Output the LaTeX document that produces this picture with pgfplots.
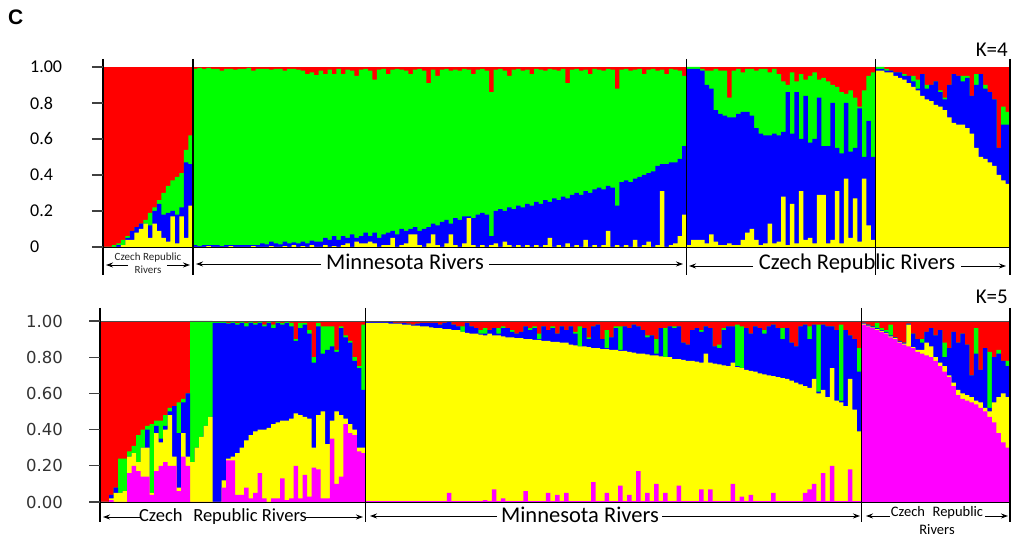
\documentclass[border=0pt]{standalone}
\usepackage{pgfplots}
\pgfplotsset{compat=1.18}
\usepackage{pgfplotstable}
\usepackage{fontspec}
\setmainfont{Carlito}
\newfontfamily\arialfont{Liberation Sans}
\newfontfamily\dejavu{DejaVu Sans}
\usetikzlibrary{arrows.meta}
\definecolor{cR}{RGB}{255,0,0}
\definecolor{cG}{RGB}{0,255,0}
\definecolor{cB}{RGB}{0,0,255}
\definecolor{cY}{RGB}{255,255,0}
\definecolor{cM}{RGB}{255,0,255}

% K=4 : cumulative tops (yellow, blue, green); red fills to 1
\pgfplotstableread{
x y b g
0 0 0 0
1 0 0 0
2 0 0 0.01
3 0 0.01 0.02
4 0.01 0.01 0.04
5 0.04 0.05 0.06
6 0.04 0.09 0.09
7 0.08 0.11 0.11
8 0.1 0.13 0.13
9 0.13 0.13 0.15
10 0.05 0.12 0.19
11 0.13 0.2 0.22
12 0.09 0.24 0.26
13 0.05 0.18 0.3
14 0.03 0.19 0.34
15 0.17 0.2 0.37
16 0.02 0.18 0.39
17 0.17 0.22 0.41
18 0.05 0.47 0.54
19 0.23 0.46 0.62
20 0.0 0.01 0.99
21 0.0 0.005 0.995
22 0.0 0.01 0.99
23 0.005 0.01 0.995
24 0.0 0.01 0.99
25 0.0 0.01 0.99
26 0.0 0.005 0.98
27 0.0 0.01 0.99
28 0.005 0.01 0.99
29 0.0 0.01 0.985
30 0.0 0.01 0.99
31 0.0 0.01 0.99
32 0.0 0.01 0.995
33 0.005 0.01 0.98
34 0.0 0.01 0.99
35 0.0 0.02 0.99
36 0.0 0.015 0.99
37 0.005 0.03 0.985
38 0.0 0.02 0.99
39 0.0 0.015 0.99
40 0.005 0.03 0.98
41 0.0 0.02 0.99
42 0.01 0.025 0.99
43 0.0 0.02 0.985
44 0.005 0.03 0.98
45 0.0 0.02 0.96
46 0.01 0.035 0.97
47 0.0 0.03 0.955
48 0.0 0.03 0.98
49 0.01 0.05 0.96
50 0.0 0.04 0.985
51 0.005 0.06 0.96
52 0.0 0.04 0.99
53 0.01 0.06 0.96
54 0.02 0.05 0.985
55 0.0 0.07 0.98
56 0.03 0.05 0.95
57 0.02 0.06 0.985
58 0.02 0.08 0.99
59 0.03 0.06 0.98
60 0.02 0.08 0.93
61 0.0 0.05 0.985
62 0.01 0.07 0.99
63 0.01 0.08 0.96
64 0.05 0.09 0.985
65 0.0 0.07 0.99
66 0.01 0.1 0.985
67 0.02 0.09 0.98
68 0.07 0.1 0.96
69 0.07 0.11 0.985
70 0.01 0.09 0.99
71 0.0 0.1 0.98
72 0.02 0.11 0.91
73 0.07 0.13 0.985
74 0.01 0.12 0.95
75 0.0 0.14 0.985
76 0.02 0.15 0.99
77 0.07 0.13 0.98
78 0.01 0.16 0.985
79 0.0 0.15 0.98
80 0.02 0.17 0.99
81 0.16 0.17 0.985
82 0.01 0.16 0.96
83 0.0 0.18 0.985
84 0.01 0.19 0.99
85 0.0 0.18 0.98
86 0.01 0.06 0.86
87 0.02 0.2 0.985
88 0.0 0.21 0.99
89 0.03 0.2 0.98
90 0.01 0.22 0.95
91 0.0 0.21 0.985
92 0.01 0.23 0.99
93 0.0 0.22 0.98
94 0.01 0.24 0.985
95 0.0 0.23 0.96
96 0.01 0.25 0.99
97 0.0 0.24 0.985
98 0.01 0.26 0.98
99 0.05 0.25 0.99
100 0.0 0.27 0.985
101 0.01 0.26 0.98
102 0.0 0.28 0.99
103 0.02 0.27 0.91
104 0.0 0.29 0.985
105 0.01 0.3 0.99
106 0.0 0.29 0.98
107 0.04 0.31 0.985
108 0.0 0.3 0.96
109 0.01 0.32 0.99
110 0.0 0.33 0.985
111 0.01 0.32 0.98
112 0.09 0.34 0.99
113 0.0 0.33 0.985
114 0.01 0.23 0.88
115 0.0 0.36 0.985
116 0.01 0.37 0.99
117 0.0 0.36 0.98
118 0.04 0.38 0.985
119 0.0 0.39 0.99
120 0.01 0.4 0.96
121 0.03 0.41 0.985
122 0.0 0.42 0.99
123 0.01 0.45 0.98
124 0.31 0.46 0.985
125 0.0 0.46 0.96
126 0.01 0.47 0.99
127 0.02 0.47 0.985
128 0.06 0.49 0.98
129 0.18 0.56 0.95
130 0.01 0.99 1.0
131 0.04 0.99 1.0
132 0.04 0.99 1.0
133 0.04 0.98 0.99
134 0.02 0.9 0.98
135 0.07 0.88 0.98
136 0.03 0.76 0.99
137 0.01 0.74 0.98
138 0.01 0.73 0.98
139 0.02 0.72 0.83
140 0.01 0.72 0.98
141 0.01 0.74 0.99
142 0.04 0.75 0.97
143 0.08 0.75 0.99
144 0.1 0.73 0.99
145 0.04 0.66 0.98
146 0.01 0.63 0.99
147 0.02 0.62 0.99
148 0.13 0.62 0.97
149 0.02 0.63 0.99
150 0.03 0.62 0.96
151 0.28 0.64 0.92
152 0.01 0.86 0.9
153 0.24 0.63 0.97
154 0.02 0.86 0.92
155 0.31 0.6 0.96
156 0.04 0.84 0.93
157 0.05 0.58 0.95
158 0.02 0.6 0.97
159 0.29 0.83 0.93
160 0.29 0.56 0.94
161 0.02 0.56 0.92
162 0.04 0.8 0.9
163 0.31 0.55 0.89
164 0.02 0.52 0.86
165 0.38 0.8 0.85
166 0.05 0.53 0.87
167 0.27 0.55 0.83
168 0.03 0.77 0.78
169 0.38 0.5 0.87
170 0.12 0.7 0.95
171 0.04 0.5 0.97
172 0.98 0.99 1.0
173 0.98 0.99 1.0
174 0.97 0.98 0.99
175 0.97 0.98 0.98
176 0.95 0.97 0.97
177 0.94 0.97 0.97
178 0.93 0.95 0.96
179 0.91 0.95 0.95
180 0.89 0.92 0.95
181 0.87 0.88 0.93
182 0.84 0.96 0.96
183 0.82 0.88 0.9
184 0.81 0.9 0.9
185 0.79 0.92 0.92
186 0.78 0.86 0.87
187 0.76 0.82 0.83
188 0.72 0.9 0.9
189 0.69 0.96 0.96
190 0.68 0.95 0.95
191 0.68 0.92 0.95
192 0.66 0.94 0.95
193 0.63 0.84 0.84
194 0.55 0.9 0.96
195 0.5 0.96 0.96
196 0.49 0.88 0.9
197 0.47 0.86 0.86
198 0.45 0.82 0.82
199 0.4 0.55 0.55
200 0.37 0.68 0.78
201 0.35 0.68 0.75
202 0.35 0.68 0.75
}\topdata

% K=5 : cumulative tops (magenta, yellow, blue, green); red fills to 1
\pgfplotstableread{
x m y b g
0 0 0 0 0
1 0 0 0 0
2 0.01 0.02 0.04 0.04
3 0.0 0.05 0.08 0.08
4 0.0 0.05 0.05 0.24
5 0.0 0.06 0.06 0.24
6 0.16 0.25 0.25 0.28
7 0.2 0.27 0.27 0.31
8 0.17 0.22 0.22 0.37
9 0.14 0.3 0.3 0.4
10 0.14 0.3 0.4 0.42
11 0.04 0.05 0.05 0.43
12 0.17 0.38 0.42 0.45
13 0.2 0.33 0.35 0.45
14 0.22 0.4 0.42 0.48
15 0.2 0.48 0.5 0.52
16 0.2 0.25 0.53 0.53
17 0.06 0.08 0.38 0.55
18 0.25 0.38 0.55 0.57
19 0.2 0.25 0.6 0.6
20 0 0.22 0.22 1.0
21 0 0.3 0.3 1.0
22 0 0.36 0.36 1.0
23 0 0.42 0.42 1.0
24 0 0.47 0.47 1.0
25 0 0 0.99 0.995
26 0 0 0.99 0.995
27 0.08 0.12 0.99 0.995
28 0.23 0.24 0.985 0.99
29 0.23 0.25 0.99 0.995
30 0.04 0.27 0.98 0.99
31 0.04 0.3 0.99 0.995
32 0.08 0.34 0.97 0.99
33 0.02 0.37 0.99 0.995
34 0.05 0.39 0.98 0.99
35 0.16 0.4 0.99 0.995
36 0.02 0.4 0.97 0.98
37 0.0 0.41 0.99 0.995
38 0.02 0.43 0.96 0.98
39 0.02 0.44 0.99 0.995
40 0.13 0.45 0.98 0.99
41 0.01 0.45 0.99 0.995
42 0.02 0.46 0.97 0.99
43 0.2 0.49 0.89 0.9
44 0.02 0.48 0.96 0.99
45 0.15 0.47 0.98 0.99
46 0.03 0.46 0.93 0.95
47 0.19 0.3 0.77 0.8
48 0.18 0.48 0.97 0.99
49 0.02 0.5 0.82 0.97
50 0.02 0.32 0.84 0.97
51 0.35 0.45 0.86 0.97
52 0.1 0.5 0.83 0.84
53 0.14 0.48 0.96 0.97
54 0.43 0.46 0.91 0.92
55 0.38 0.43 0.88 0.89
56 0.37 0.4 0.78 0.8
57 0.28 0.3 0.74 0.75
58 0.27 0.3 0.62 0.98
59 0.005 0.99 0.995 0.995
60 0.005 0.99 0.995 0.995
61 0.005 0.99 0.995 0.995
62 0.005 0.99 0.995 0.995
63 0.005 0.99 0.995 0.995
64 0.005 0.985 0.995 0.995
65 0.005 0.985 0.99 0.99
66 0.005 0.985 0.99 0.99
67 0.005 0.98 0.99 0.99
68 0.005 0.98 0.985 0.985
69 0.005 0.975 0.98 0.98
70 0.005 0.975 0.985 0.985
71 0.005 0.97 0.99 0.99
72 0.005 0.97 0.99 0.99
73 0.005 0.965 0.99 0.99
74 0.005 0.96 0.99 0.99
75 0.005 0.96 0.98 0.98
76 0.005 0.955 0.99 0.99
77 0.05 0.955 0.995 0.995
78 0.005 0.95 0.98 0.98
79 0.005 0.95 0.97 0.97
80 0.005 0.94 0.94 0.97
81 0.005 0.935 0.99 0.99
82 0.005 0.93 0.97 0.97
83 0.005 0.93 0.96 0.96
84 0.005 0.925 0.93 0.95
85 0.01 0.92 0.93 0.96
86 0.005 0.93 0.95 0.95
87 0.07 0.92 0.96 0.96
88 0.005 0.92 0.93 0.96
89 0.02 0.915 0.96 0.97
90 0.005 0.91 0.96 0.96
91 0.005 0.91 0.94 0.95
92 0.005 0.905 0.93 0.93
93 0.005 0.905 0.94 0.94
94 0.06 0.9 0.97 0.97
95 0.005 0.9 0.95 0.96
96 0.005 0.895 0.96 0.97
97 0.005 0.895 0.9 0.93
98 0.005 0.89 0.97 0.97
99 0.05 0.89 0.95 0.95
100 0.005 0.885 0.96 0.97
101 0.04 0.885 0.93 0.93
102 0.005 0.88 0.97 0.97
103 0.05 0.88 0.95 0.95
104 0.005 0.87 0.97 0.97
105 0.005 0.865 0.93 0.94
106 0.005 0.86 0.86 0.97
107 0.005 0.86 0.96 0.96
108 0.005 0.855 0.9 0.91
109 0.11 0.85 0.97 0.97
110 0.005 0.85 0.98 0.98
111 0.005 0.845 0.9 0.9
112 0.05 0.845 0.85 0.95
113 0.005 0.84 0.91 0.91
114 0.005 0.84 0.96 0.97
115 0.09 0.835 0.84 0.97
116 0.005 0.835 0.97 0.97
117 0.04 0.83 0.96 0.96
118 0.005 0.825 0.98 0.98
119 0.17 0.82 0.97 0.97
120 0.005 0.82 0.95 0.95
121 0.05 0.815 0.91 0.92
122 0.005 0.81 0.92 0.92
123 0.1 0.81 0.82 0.9
124 0.005 0.805 0.96 0.96
125 0.05 0.8 0.8 0.96
126 0.005 0.8 0.97 0.97
127 0.005 0.79 0.96 0.97
128 0.09 0.79 0.97 0.97
129 0.005 0.785 0.88 0.88
130 0.005 0.78 0.87 0.87
131 0.005 0.78 0.95 0.95
132 0.005 0.775 0.96 0.96
133 0.07 0.77 0.94 0.95
134 0.005 0.82 0.97 0.97
135 0.07 0.77 0.96 0.96
136 0.005 0.765 0.86 0.86
137 0.005 0.76 0.85 0.87
138 0.005 0.755 0.95 0.96
139 0.005 0.75 0.97 0.97
140 0.1 0.77 0.97 0.97
141 0.005 0.745 0.75 0.98
142 0.03 0.74 0.74 0.97
143 0.005 0.73 0.96 0.96
144 0.04 0.725 0.93 0.93
145 0.005 0.72 0.97 0.97
146 0.005 0.71 0.96 0.96
147 0.005 0.705 0.93 0.95
148 0.005 0.7 0.97 0.97
149 0.05 0.695 0.98 0.98
150 0.005 0.69 0.96 0.96
151 0.005 0.685 0.9 0.96
152 0.005 0.68 0.96 0.96
153 0.005 0.67 0.88 0.88
154 0.005 0.66 0.86 0.86
155 0.005 0.65 0.97 0.97
156 0.05 0.64 0.98 0.98
157 0.07 0.63 0.9 0.97
158 0.1 0.68 0.98 0.98
159 0.005 0.6 0.61 0.98
160 0.16 0.62 0.98 0.98
161 0.005 0.58 0.97 0.97
162 0.2 0.74 0.97 0.97
163 0.005 0.56 0.95 0.95
164 0.005 0.55 0.56 0.98
165 0.005 0.53 0.95 0.95
166 0.18 0.68 0.92 0.92
167 0.005 0.51 0.9 0.9
168 0.005 0.39 0.72 0.85
169 0.98 0.985 0.99 0.99
170 0.97 0.975 0.98 0.98
171 0.96 0.965 0.97 0.97
172 0.95 0.955 0.96 0.99
173 0.94 0.945 0.95 0.96
174 0.93 0.935 0.94 0.95
175 0.91 0.915 0.92 0.98
176 0.9 0.905 0.91 0.91
177 0.88 0.885 0.89 0.89
178 0.87 0.875 0.88 0.88
179 0.86 0.98 0.985 0.985
180 0.85 0.855 0.93 0.93
181 0.83 0.84 0.9 0.9
182 0.82 0.84 0.88 0.9
183 0.81 0.88 0.94 0.94
184 0.8 0.86 0.96 0.96
185 0.78 0.8 0.92 0.92
186 0.75 0.77 0.95 0.95
187 0.72 0.75 0.8 0.88
188 0.69 0.7 0.85 0.85
189 0.64 0.66 0.94 0.94
190 0.59 0.62 0.88 0.88
191 0.57 0.6 0.93 0.93
192 0.56 0.59 0.87 0.87
193 0.55 0.58 0.7 0.7
194 0.54 0.56 0.82 0.96
195 0.52 0.55 0.73 0.73
196 0.5 0.52 0.85 0.85
197 0.47 0.5 0.52 0.83
198 0.44 0.55 0.8 0.8
199 0.38 0.58 0.82 0.84
200 0.33 0.6 0.78 0.78
201 0.3 0.58 0.75 0.78
202 0.3 0.58 0.75 0.78
}\botdata

\pgfplotsset{strbase/.style={
  scale only axis, xmin=0, xmax=202, ymin=0, ymax=1, clip=false,
  axis on top,
  axis x line*=bottom, axis y line*=left,
  x axis line style={-, black, line width=0.8pt},
  y axis line style={draw=none},
  xtick=\empty, tick align=outside, major tick length=11pt,
  ytick={0,0.2,0.4,0.6,0.8,1},
  every tick/.style={black!75, line width=1.2pt},
  yticklabel style={anchor=west, inner sep=0pt},
}}
\tikzset{sep/.style={black, line width=1.4pt},
  arr/.style={-{Stealth[length=7pt,width=5pt]}, line width=0.9pt, black}}

\begin{document}
\begin{tikzpicture}
\path[use as bounding box] (0pt,0pt) rectangle (1015pt,537pt);

% ---------------- K=4 ----------------
\begin{axis}[strbase, at={(103pt,290pt)}, anchor=south west,
  width=907pt, height=180pt,
  yticklabels={0,0.2,0.4,0.6,0.8,1.00},
  yticklabel style={xshift=-62pt, font=\fontsize{18}{20}\selectfont}]
\addplot[fill=cR, draw=none] coordinates {(0,1) (202,1)} \closedcycle;
\addplot[const plot mark left, fill=cG, draw=none] table[x=x,y=g]{\topdata} \closedcycle;
\addplot[const plot mark left, fill=cB, draw=none] table[x=x,y=b]{\topdata} \closedcycle;
\addplot[const plot mark left, fill=cY, draw=none] table[x=x,y=y]{\topdata} \closedcycle;
\draw[sep] (axis cs:0,1.045) -- (axis cs:0,-0.155);
\draw[sep] (axis cs:20,1.045) -- (axis cs:20,-0.155);
\draw[sep] (axis cs:130,1.045) -- (axis cs:130,-0.155);
\draw[sep] (axis cs:172,1.045) -- (axis cs:172,-0.155);
\draw[sep] (axis cs:202,1.045) -- (axis cs:202,-0.155);
\end{axis}

% ---------------- K=5 ----------------
\begin{axis}[strbase, at={(100pt,35pt)}, anchor=south west,
  width=910pt, height=181pt,
  yticklabels={0.00,0.20,0.40,0.60,0.80,1.00},
  yticklabel style={xshift=-63pt, text=black!80, font=\dejavu\fontsize{16.5}{18}\selectfont}]
\addplot[fill=cR, draw=none] coordinates {(0,1) (202,1)} \closedcycle;
\addplot[const plot mark left, fill=cG, draw=none] table[x=x,y=g]{\botdata} \closedcycle;
\addplot[const plot mark left, fill=cB, draw=none] table[x=x,y=b]{\botdata} \closedcycle;
\addplot[const plot mark left, fill=cY, draw=none] table[x=x,y=y]{\botdata} \closedcycle;
\addplot[const plot mark left, fill=cM, draw=none] table[x=x,y=m]{\botdata} \closedcycle;
\draw[black!70, line width=0.6pt] (axis cs:0,1) -- (axis cs:202,1);
\draw[sep] (axis cs:0,1.072) -- (axis cs:0,-0.11);
\draw[sep] (axis cs:59,1.072) -- (axis cs:59,-0.11);
\draw[sep] (axis cs:169,1.072) -- (axis cs:169,-0.11);
\draw[sep] (axis cs:202,1.072) -- (axis cs:202,-0.11);
\end{axis}

% ---------------- annotations ----------------
\node[anchor=base west, font=\arialfont\bfseries\fontsize{21}{24}\selectfont, inner sep=0pt] at (8pt,512pt) {C};
\node[anchor=base east, font=\fontsize{21}{24}\selectfont, inner sep=0pt] at (1008pt,480pt) {K=4};
\node[anchor=base east, font=\fontsize{21}{24}\selectfont, inner sep=0pt] at (1008pt,233pt) {K=5};

% top group labels
\node[font=\fontsize{11}{13.5}\selectfont, text=black!85, inner sep=0pt, anchor=base] at (148pt,276pt) {Czech Republic};
\node[font=\fontsize{11}{13.5}\selectfont, text=black!85, inner sep=0pt, anchor=base] at (148pt,263pt) {Rivers};
\draw[arr] (128pt,272pt) -- (106pt,272pt);
\draw[arr] (167pt,272pt) -- (190pt,272pt);
\node[anchor=base, font=\fontsize{22.5}{26}\selectfont, inner sep=0pt] at (405pt,267pt) {Minnesota Rivers};
\draw[arr] (321pt,273pt) -- (196pt,273pt);
\draw[arr] (489pt,273pt) -- (683pt,273pt);
\node[anchor=base, font=\fontsize{22.5}{26}\selectfont, inner sep=0pt] at (857pt,267pt) {Czech Republic Rivers};
\draw[arr] (753pt,271pt) -- (689pt,271pt);
\draw[arr] (961pt,271pt) -- (1006pt,271pt);

% bottom group labels
\node[anchor=base, font=\fontsize{18.5}{22}\selectfont, inner sep=0pt] at (223pt,15pt) {Czech\hspace{0.35em} Republic Rivers};
\draw[arr] (141pt,20pt) -- (103pt,20pt);
\draw[arr] (306pt,20pt) -- (363pt,20pt);
\node[anchor=base, font=\fontsize{22.5}{26}\selectfont, inner sep=0pt] at (580pt,14pt) {Minnesota Rivers};
\draw[arr] (497pt,21pt) -- (370pt,21pt);
\draw[arr] (662pt,21pt) -- (860pt,21pt);
\node[anchor=base, font=\fontsize{14.5}{17}\selectfont, inner sep=0pt] at (937pt,20pt) {Czech\hspace{0.3em} Republic};
\node[anchor=base, font=\fontsize{14.5}{17}\selectfont, inner sep=0pt] at (937pt,2pt) {Rivers};
\draw[arr] (890pt,21pt) -- (866pt,21pt);
\draw[arr] (985pt,21pt) -- (1008pt,21pt);
\end{tikzpicture}
\end{document}
